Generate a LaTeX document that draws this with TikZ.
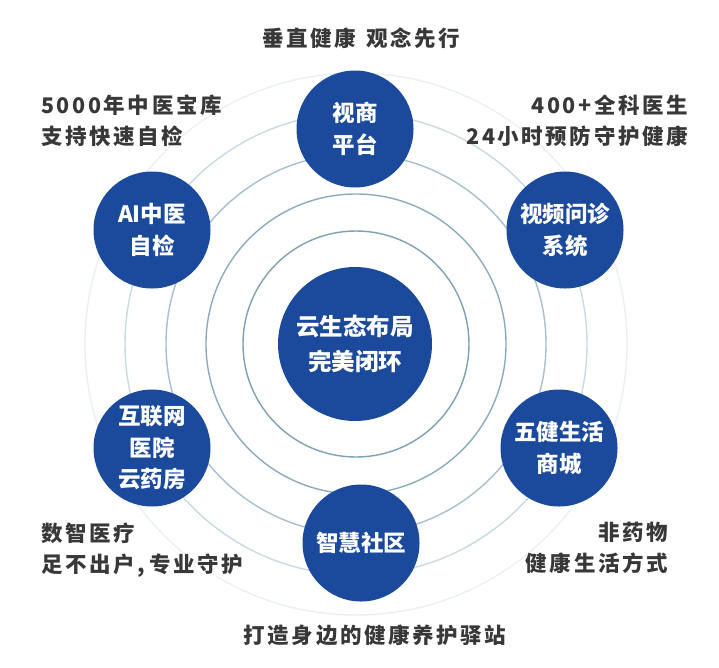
\documentclass[tikz,border=0pt]{standalone}
\usepackage{fontspec}
\setmainfont{Noto Sans CJK SC}
\newfontfamily\lblfont[LetterSpace=12]{Noto Sans CJK SC}
\definecolor{cblue}{HTML}{1B4A9C}
\definecolor{lblgrey}{HTML}{383838}
\definecolor{ringA}{HTML}{7FA1B5}
\definecolor{ringB}{HTML}{8CABBE}
\definecolor{ringC}{HTML}{A8C0CE}
\definecolor{ringD}{HTML}{CADAE3}
\definecolor{ringE}{HTML}{EAF0F4}
\tikzset{
  ringline/.style={line width=1.4pt},
  satellite/.style={circle, fill=cblue, text=white, minimum size=117pt, inner sep=0pt,
    align=center, font=\bfseries\fontsize{22.5}{31.5}\selectfont},
  hub/.style={circle, fill=cblue, text=white, minimum size=154pt, inner sep=0pt,
    align=center, font=\bfseries\fontsize{23.5}{35}\selectfont},
  lbl/.style={text=lblgrey, inner sep=0pt, font=\lblfont\bfseries\fontsize{21.5}{31}\selectfont}
}
\begin{document}
\begin{tikzpicture}[x=1pt,y=-1pt]
\useasboundingbox (0,0) rectangle (719,667);
\fill[white] (0,0) rectangle (719,667);
\coordinate (o) at (356,344);
\draw[ringline, ringE] (o) circle[radius=271pt];
\draw[ringline, ringD] (o) circle[radius=231pt];
\draw[ringline, ringC] (o) circle[radius=190pt];
\draw[ringline, ringB] (o) circle[radius=150pt];
\draw[ringline, ringA] (o) circle[radius=113pt];

\node[hub] (c) at (355,344) {云生态布局\\完美闭环};
\node[satellite] (n1) at (355,129) {视商\\平台};
\node[satellite] (n2) at (152,230) {AI中医\\自检};
\node[satellite] (n3) at (565,230) {视频问诊\\系统};
\node[satellite] (n4) at (152,448) {互联网\\医院\\云药房};
\node[satellite] (n5) at (559,448) {五健生活\\商城};
\node[satellite] (n6) at (361,543) {智慧社区};

\node[lbl] (t1) at (361,38) {垂直健康\hspace{10pt}观念先行};
\node[lbl, anchor=west, align=left] (t2) at (41,120.5) {5000年中医宝库\\支持快速自检};
\node[lbl, anchor=east, align=right] (t3) at (688,120.5) {400+全科医生\\24小时预防守护健康};
\node[lbl, anchor=west, align=left] (t4) at (41,550) {数智医疗\\足不出户,\hspace{4pt}专业守护};
\node[lbl, anchor=east, align=right] (t5) at (668,548) {非药物\\健康生活方式};
\node[lbl] (t6) at (375,635) {打造身边的健康养护驿站};
\end{tikzpicture}
\end{document}
